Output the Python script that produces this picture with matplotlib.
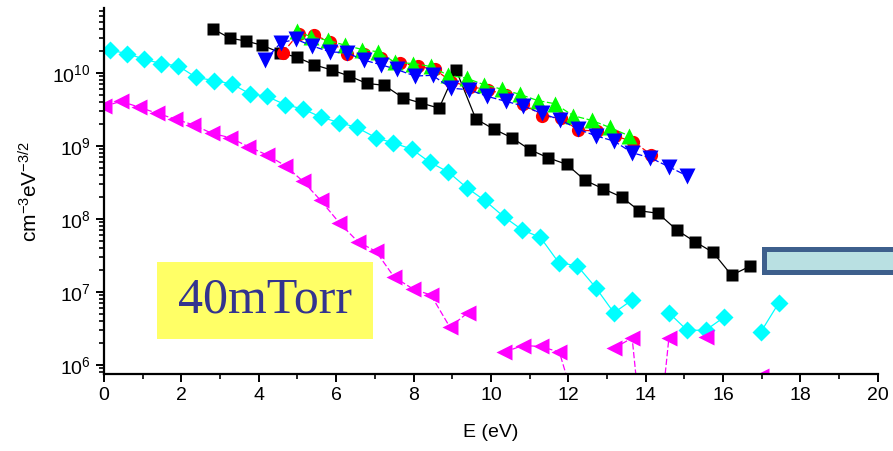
import numpy as np
import matplotlib
matplotlib.use("Agg")
import matplotlib.pyplot as plt
from matplotlib.patches import Rectangle

plt.rcParams['font.family'] = ['Liberation Sans', 'DejaVu Sans']
plt.rcParams['mathtext.default'] = 'regular'

nan = np.nan

# ---------- data ----------
blk_E = [2.82, 3.26, 3.66, 4.09, 4.55, 4.98, 5.43, 5.88, 6.34, 6.79, 7.24, 7.72, 8.18, 8.66,
         9.10, 9.61, 10.08, 10.54, 11.01, 11.48, 11.96, 12.43, 12.90, 13.38, 13.83, 14.32,
         14.80, 15.27, 15.74, 16.22, 16.69]
blk_y = [4.0e10, 3.0e10, 2.75e10, 2.4e10, 1.9e10, 1.65e10, 1.3e10, 1.1e10, 9.1e9, 7.2e9,
         6.8e9, 4.6e9, 3.9e9, 3.3e9, 1.1e10, 2.35e9, 1.7e9, 1.3e9, 8.9e8, 6.9e8, 5.6e8,
         3.4e8, 2.6e8, 2.0e8, 1.3e8, 1.2e8, 7.1e7, 4.9e7, 3.5e7, 1.7e7, 2.25e7]

red_E = [4.62, 5.03, 5.43, 5.84, 6.29, 6.72, 7.17, 7.65, 8.12, 8.55, 8.98, 9.46, 9.93,
         10.40, 10.83, 11.33, 11.80, 12.26, 12.73, 13.20, 13.67, 14.15]
red_y = [1.9e10, 3.45e10, 3.3e10, 2.7e10, 1.85e10, 1.8e10, 1.6e10, 1.38e10, 1.23e10,
         1.12e10, 7.6e9, 6.5e9, 5.9e9, 5.0e9, 3.8e9, 2.6e9, 2.4e9, 1.66e9, 1.6e9, 1.38e9,
         1.15e9, 7.6e8]

grn_E = [4.98, 5.36, 5.80, 6.23, 6.68, 7.09, 7.52, 7.99, 8.44, 8.90, 9.37, 9.83, 10.29,
         10.75, 11.21, 11.65, 12.13, 12.60, 13.07, 13.57]
grn_y = [3.8e10, 3.1e10, 2.8e10, 2.4e10, 2.1e10, 1.95e10, 1.4e10, 1.35e10, 1.23e10, 9.3e9,
         8.5e9, 6.9e9, 6.0e9, 5.1e9, 4.2e9, 3.8e9, 2.6e9, 2.25e9, 1.8e9, 1.38e9]

blu_E = [4.16, 4.57, 4.96, 5.38, 5.84, 6.27, 6.72, 7.16, 7.56, 8.04, 8.49, 8.97, 9.44,
         9.90, 10.38, 10.83, 11.31, 11.78, 12.26, 12.71, 13.18, 13.65, 14.12, 14.60, 15.07]
blu_y = [1.5e10, 2.6e10, 2.9e10, 2.35e10, 1.95e10, 1.9e10, 1.5e10, 1.3e10, 1.12e10, 9.1e9,
         9.3e9, 6.2e9, 5.9e9, 4.8e9, 4.1e9, 3.55e9, 2.8e9, 2.3e9, 1.7e9, 1.38e9, 1.17e9,
         8.1e8, 6.9e8, 5.2e8, 3.9e8]

cyn_E = [0.155, 0.60, 1.03, 1.47, 1.92, 2.38, 2.84, 3.30, 3.77, 4.20, 4.68, 5.15, 5.60,
         6.07, 6.53, 7.03, 7.48, 7.95, 8.42, 8.90, 9.37, 9.84, 10.34, 10.81, 11.28, 11.76,
         12.23, 12.71, 13.18, 13.65, 14.12, 14.60, 15.07, 15.55, 16.02, 16.49, 16.97, 17.44]
cyn_y = [2.05e10, 1.85e10, 1.55e10, 1.35e10, 1.25e10, 8.7e9, 7.9e9, 7.1e9, 5.2e9, 4.8e9,
         3.7e9, 3.2e9, 2.5e9, 2.1e9, 1.8e9, 1.3e9, 1.1e9, 9.1e8, 6.0e8, 4.4e8, 2.7e8,
         1.8e8, 1.07e8, 7.1e7, 5.6e7, 2.5e7, 2.3e7, 1.15e7, 5.2e6, 7.8e6, nan, 5.2e6,
         3.0e6, 3.0e6, 4.5e6, nan, 2.8e6, 7.1e6]

mag_E = [0.0, 0.44, 0.91, 1.38, 1.83, 2.31, 2.78, 3.26, 3.73, 4.20, 4.68, 5.14, 5.60, 6.08,
         6.56, 7.03, 7.50, 7.99, 8.45, 8.94, 9.40, 9.87, 10.34, 10.82, 11.29, 11.77, 12.24,
         12.71, 13.18, 13.65, 14.12, 14.60, 15.07, 15.55, 16.02, 16.49, 16.97]
mag_y = [3.5e9, 4.1e9, 3.4e9, 2.8e9, 2.35e9, 1.95e9, 1.5e9, 1.3e9, 9.8e8, 7.6e8, 5.4e8,
         3.3e8, 1.8e8, 8.9e7, 4.9e7, 3.6e7, 1.6e7, 1.1e7, 9.1e6, 3.3e6, 5.2e6, nan, 1.5e6,
         1.85e6, 1.8e6, 1.5e6, 2.2e5, nan, 1.7e6, 2.35e6, 8e3, 2.35e6, nan, 2.45e6, nan,
         nan, 7.0e5]

# ---------- figure ----------
fig = plt.figure(figsize=(8.93, 4.51), dpi=100)
ax = fig.add_axes([0.1165, 0.1707, 0.8665, 0.8115])

dash = (0, (5, 2))
ax.plot(blk_E, blk_y, color='black', lw=0.9, marker='s', ms=8.5, mec='none')
ax.plot(red_E, red_y, color='red', lw=0.9, ls=dash, marker='o', ms=9.5, mec='none')
ax.plot(grn_E, grn_y, color='#00ff00', lw=0.9, ls=dash, marker='^', ms=11, mec='none')
ax.plot(blu_E, blu_y, color='blue', lw=0.9, ls=dash, marker='v', ms=11, mec='none')
ax.plot(cyn_E, cyn_y, color='cyan', lw=0.9, marker='D', ms=9, mec='none')
ax.plot(mag_E, mag_y, color='magenta', lw=0.9, ls=dash, marker='<', ms=11, mec='none')

ax.set_yscale('log')
ax.set_xlim(0, 20)
ax.set_ylim(7.54e5, 7.77e10)
ax.set_xticks(np.arange(0, 21, 2))
ax.set_xticks(np.arange(1, 20, 2), minor=True)
ax.set_yticks([1e6, 1e7, 1e8, 1e9, 1e10])
ax.set_yticklabels(['10$^{6}$', '10$^{7}$', '10$^{8}$', '10$^{9}$', '10$^{10}$'])

for s in ['top', 'right']:
    ax.spines[s].set_visible(False)
for s in ['left', 'bottom']:
    ax.spines[s].set_linewidth(1.6)
ax.tick_params(which='major', length=6, width=1.4, labelsize=14, direction='out')
ax.tick_params(which='minor', length=3.5, width=1.2, direction='out')

ax.set_xlabel('E (eV)', fontsize=14, labelpad=14)
ax.set_ylabel('cm$^{-3}$eV$^{-3/2}$', fontsize=15, labelpad=8)

# text boxes
ax.text(0.152, 0.284, '40mTorr', transform=ax.transAxes, fontsize=4, color='#3a3aff',
        fontweight='bold', va='center')
fig.patches.append(Rectangle((157 / 893, 1 - 339 / 451), 216 / 893, 77 / 451,
                             transform=fig.transFigure, facecolor='#ffff66',
                             edgecolor='none', zorder=5))
fig.text(265 / 893, 1 - 300 / 451, '40mTorr', fontsize=36, color='#33338f',
         family=['Liberation Serif', 'DejaVu Serif'], ha='center', va='center', zorder=6)
fig.patches.append(Rectangle((764 / 893, 1 - 272 / 451), 140 / 893, 23 / 451,
                             transform=fig.transFigure, facecolor='#b9e0e2',
                             edgecolor='#3d5f8c', linewidth=3.6, zorder=5))

fig.savefig('out.png', dpi=100)
